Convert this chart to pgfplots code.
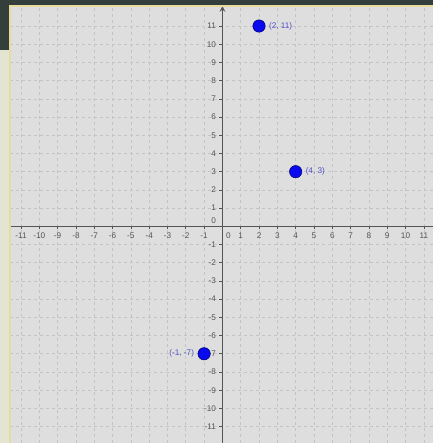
\documentclass[border=0pt]{standalone}
\usepackage{fontspec}
\setmainfont{Liberation Sans}
\usepackage{pgfplots}
\pgfplotsset{compat=1.18}
\definecolor{darkbg}{HTML}{343E3A}
\definecolor{beige}{HTML}{E4E4D2}
\definecolor{panel}{HTML}{DEDEDE}
\definecolor{gridc}{HTML}{C4C4C4}
\definecolor{axc}{HTML}{555555}
\definecolor{ptfill}{HTML}{0A0AEE}
\definecolor{ptdraw}{HTML}{00006A}
\definecolor{lbl}{HTML}{5050C8}
\definecolor{border}{HTML}{E6DC9E}
\begin{document}
\begin{tikzpicture}
\path[use as bounding box] (0,0) rectangle (433pt,443pt);
\fill[darkbg] (0,0) rectangle (433pt,443pt);
\fill[beige] (0,0) rectangle (10pt,393pt);
\begin{axis}[
  at={(10pt,0pt)}, anchor=south west,
  scale only axis, width=423pt, height=437pt,
  xmin=-11.6, xmax=11.5, ymin=-11.9, ymax=12.1,
  axis background/.style={fill=panel},
  axis lines=middle,
  axis line style={axc, line width=1.5pt, solid},
  y axis line style={-stealth},
  x axis line style={-},
  xtick={-11,-10,...,-1,1,2,...,11},
  ytick={-11,-10,...,-1,1,2,...,11},
  extra x ticks={0}, extra x tick labels={0},
  extra x tick style={grid=none, xticklabel style={xshift=6pt, yshift=-3pt}, major tick length=0pt},
  extra y ticks={0}, extra y tick labels={0},
  extra y tick style={grid=none, yticklabel style={yshift=6pt, xshift=-3pt}, major tick length=0pt},
  tick align=outside,
  major tick length=3pt,
  tick style={axc, line width=0.6pt, solid},
  grid=major,
  major grid style={gridc, dashed, line width=0.6pt},
  tick label style={font=\fontsize{8.2}{9}\selectfont, text=axc},
  /pgf/number format/assume math mode=true,
  clip=false,
  axis on top,
]
\addplot[only marks, mark=*, mark size=6.2pt, mark options={fill=ptfill, draw=ptdraw, line width=0.5pt},
  nodes near coords, point meta=explicit symbolic,
  every node near coord/.style={anchor=west, xshift=6.5pt, yshift=0pt, font=\fontsize{8.2}{9}\selectfont, text=lbl}]
  coordinates {(2,11) [(2, 11)] (4,3) [(4, 3)]};
\addplot[only marks, mark=*, mark size=6.2pt, mark options={fill=ptfill, draw=ptdraw, line width=0.5pt},
  nodes near coords, point meta=explicit symbolic,
  every node near coord/.style={anchor=east, xshift=-6.5pt, yshift=0pt, font=\fontsize{8.2}{9}\selectfont, text=lbl}]
  coordinates {(-1,-7) [(-1, -7)]};
\end{axis}
\draw[border, line width=1.5pt] (10pt,0) -- (10pt,437pt) -- (433pt,437pt);
\end{tikzpicture}
\end{document}
